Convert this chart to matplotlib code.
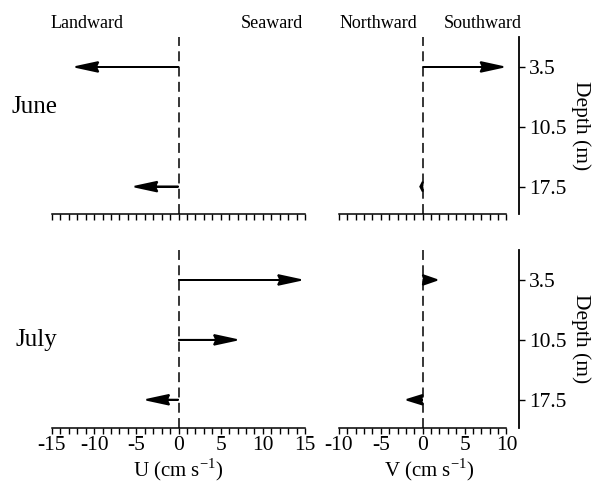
import numpy as np
import matplotlib
matplotlib.use("Agg")
import matplotlib.pyplot as plt
from matplotlib.ticker import FixedLocator

plt.rcParams['font.family'] = ['Liberation Serif', 'DejaVu Serif']
plt.rcParams['mathtext.fontset'] = 'custom'
plt.rcParams['mathtext.rm'] = 'Liberation Serif'
plt.rcParams['axes.unicode_minus'] = False

# depths of the current meters (m)
depths = [3.5, 10.5, 17.5]
# velocity components (cm/s), nan = no arrow drawn
june_u = [-12.2, np.nan, -5.2]
june_v = [9.6, np.nan, -0.3]
july_u = [14.5, 6.9, -3.8]
july_v = [1.7, np.nan, -1.9]

u_ticks = [-15, -10, -5, 0, 5, 10, 15]
v_ticks = [-10, -5, 0, 5, 10]
depth_ticks = [3.5, 10.5, 17.5]

fig = plt.figure(figsize=(5.92, 4.83), dpi=100)

W, H = 592.0, 483.0


def box(x0, y0, x1, y1):
    # pixel box (top-left origin) -> figure fraction
    return [x0 / W, 1 - y1 / H, (x1 - x0) / W, (y1 - y0) / H]


def draw_arrows(ax, vals):
    for d, v in zip(depths, vals):
        if np.isnan(v) or v == 0:
            continue
        hl = min(2.7, abs(v))
        ax.arrow(0, d, v, 0, length_includes_head=True, width=0.0,
                 head_width=1.15, head_length=hl, overhang=0.1,
                 fc='black', ec='black', lw=1.3, zorder=3)


def style_x(ax, lo, hi, major, labels):
    for s in ['top', 'left', 'right']:
        ax.spines[s].set_visible(False)
    ax.spines['bottom'].set_bounds(lo, hi)
    ax.spines['bottom'].set_linewidth(1.1)
    ax.xaxis.set_major_locator(FixedLocator(major))
    ax.xaxis.set_minor_locator(FixedLocator(list(range(lo, hi + 1))))
    ax.tick_params(axis='x', which='both', direction='out', length=4, width=1.0)
    ax.tick_params(axis='x', labelsize=15.5, pad=2)
    if not labels:
        ax.tick_params(axis='x', labelbottom=False)
    ax.set_yticks([])
    ax.axvline(0, color='black', lw=1.1, ls=(0, (6.5, 3.5)), zorder=1)


def style_depth(ax, ymax):
    ax.set_ylim(ymax, 0)
    ax.spines['right'].set_visible(True)
    ax.spines['right'].set_linewidth(1.3)
    ax.yaxis.tick_right()
    ax.set_yticks(depth_ticks)
    ax.set_yticklabels([str(t) for t in depth_ticks])
    ax.tick_params(axis='y', direction='out', length=4, width=1.0,
                   labelsize=15.5, pad=3)
    ax.yaxis.set_label_position('right')
    ax.set_ylabel('Depth (m)', rotation=270, fontsize=15.5, labelpad=18)


panels = [
    (june_u, june_v, 37, 214, 20.7, False),
    (july_u, july_v, 250, 428, 20.8, True),
]

for u, v, y0, y1, ymax, lab in panels:
    axu = fig.add_axes(box(52, y0, 305, y1))
    axu.set_xlim(-15, 15)
    axu.set_ylim(ymax, 0)
    style_x(axu, -15, 15, u_ticks, lab)
    draw_arrows(axu, u)

    axv = fig.add_axes(box(339, y0, 519, y1))
    axv.set_xlim(-10, 11.5)
    style_x(axv, -10, 10, v_ticks, lab)
    style_depth(axv, ymax)
    draw_arrows(axv, v)

    if lab:
        axu.set_xlabel('U (cm s$^{-1}$)', fontsize=15, labelpad=1)
        axv.set_xlabel('V (cm s$^{-1}$)', fontsize=15, labelpad=1)

fig.text(87 / W, 1 - 23 / H, 'Landward', ha='center', va='center', fontsize=13)
fig.text(272 / W, 1 - 23 / H, 'Seaward', ha='center', va='center', fontsize=13)
fig.text(378 / W, 1 - 23 / H, 'Northward', ha='center', va='center', fontsize=13)
fig.text(483 / W, 1 - 23 / H, 'Southward', ha='center', va='center', fontsize=13)
fig.text(12 / W, 1 - 107 / H, 'June', ha='left', va='center', fontsize=18)
fig.text(15 / W, 1 - 340 / H, 'July', ha='left', va='center', fontsize=18)

fig.savefig('out.png', dpi=100)
